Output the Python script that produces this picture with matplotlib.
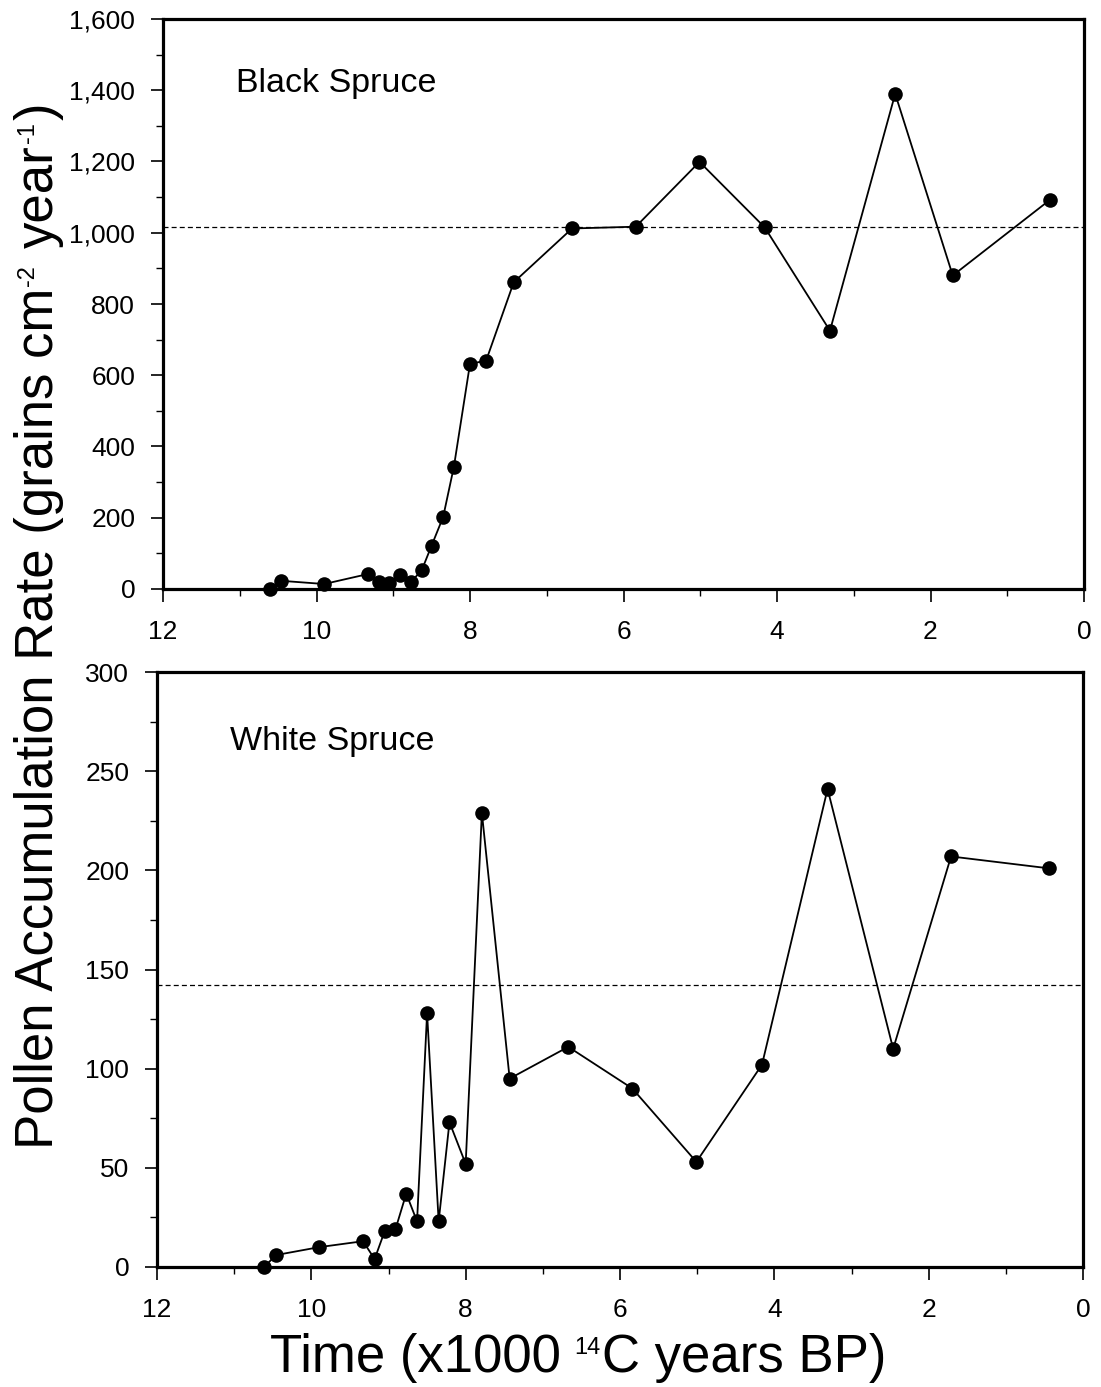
import matplotlib.pyplot as plt
from matplotlib.ticker import MultipleLocator, FuncFormatter
from matplotlib.transforms import IdentityTransform

plt.rcParams['font.family'] = ['Liberation Sans', 'DejaVu Sans']

# radiocarbon age of each sample (x1000 14C yr BP)
age_kyr = [10.61, 10.46, 9.90, 9.33, 9.18, 9.05, 8.91, 8.77, 8.63, 8.50, 8.35,
           8.21, 8.00, 7.79, 7.43, 6.67, 5.84, 5.01, 4.16, 3.31, 2.46, 1.71, 0.44]

# pollen accumulation rates (grains cm-2 yr-1)
black_spruce = [0, 23, 14, 42, 21, 18, 39, 20, 52, 122, 202, 343, 632, 641, 861,
                1012, 1017, 1199, 1015, 725, 1390, 880, 1093]
white_spruce = [0, 6, 10, 13, 4, 18, 19, 37, 23, 128, 23, 73, 52, 229, 95,
                111, 90, 53, 102, 241, 110, 207, 201]

# Holocene mean lines
black_mean = 1015
white_mean = 142

lw_frame = 2.3
fs_tick = 19
fs_label = 38
fs_sup = 17

fig = plt.figure(figsize=(11.01, 13.87), dpi=100)
ax_top = fig.add_axes([163 / 1101, 1 - 589 / 1387, 921 / 1101, 570 / 1387])
ax_bot = fig.add_axes([157 / 1101, 1 - 1267 / 1387, 926 / 1101, 595 / 1387])

panels = [
    (ax_top, black_spruce, black_mean, 1600, 200, 100, "Black Spruce", 0.872),
    (ax_bot, white_spruce, white_mean, 300, 50, 25, "White Spruce", 0.869),
]

for ax, vals, mean, ymax, major, minor, name, ytxt in panels:
    ax.axhline(mean, color='k', lw=0.9, ls=(0, (4, 2.5)), zorder=1)
    ax.plot(age_kyr, vals, color='k', lw=1.3, marker='o', ms=10.5,
            markeredgewidth=0, clip_on=False, zorder=3)

    ax.set_xlim(12, 0)
    ax.set_ylim(0, ymax)
    ax.xaxis.set_major_locator(MultipleLocator(2))
    ax.xaxis.set_minor_locator(MultipleLocator(1))
    ax.yaxis.set_major_locator(MultipleLocator(major))
    ax.yaxis.set_minor_locator(MultipleLocator(minor))
    ax.yaxis.set_major_formatter(FuncFormatter(lambda v, p: f"{v:,.0f}"))
    ax.xaxis.set_major_formatter(FuncFormatter(lambda v, p: f"{v:.0f}"))

    ax.tick_params(which='major', direction='out', length=9, width=1.2,
                   labelsize=fs_tick)
    ax.tick_params(which='minor', direction='out', length=5, width=1.0)
    ax.tick_params(axis='y', which='major', pad=11)
    ax.tick_params(axis='x', which='major', pad=13)

    for spine in ax.spines.values():
        spine.set_linewidth(lw_frame)

    ax.text(0.079, ytxt, name, transform=ax.transAxes, fontsize=24.5,
            ha='left', va='baseline')


def text_run(pieces, anchor, vertical):
    """Lay text pieces end to end along one baseline, centred on anchor (px)."""
    renderer = fig.canvas.get_renderer()
    placed = []
    pos = 0.0
    for s, size, rise, gap in pieces:
        t = fig.text(0, 0, s, fontsize=size, rotation=90 if vertical else 0,
                     rotation_mode='anchor', ha='left', va='baseline',
                     transform=IdentityTransform())
        bb = t.get_window_extent(renderer)
        placed.append((t, pos, rise))
        pos += (bb.height if vertical else bb.width) + gap
    x0, y0 = anchor
    for t, p, rise in placed:
        if vertical:
            t.set_position((x0 - rise, y0 - pos / 2 + p))
        else:
            t.set_position((x0 - pos / 2 + p, y0 + rise))


# y label: baseline 53 px from the left edge, centred 626 px from the top
text_run([("Pollen Accumulation Rate (grains cm", fs_label, 0, 2),
          ("-2", fs_sup, 19, 17),
          ("year", fs_label, 0, 2),
          ("-1", fs_sup, 19, 2),
          (")", fs_label, 0, 0)],
         anchor=(53, 1387 - 626), vertical=True)

# x label
text_run([("Time (x1000", fs_label, 0, 14),
          ("14", fs_sup, 18, 1),
          ("C years BP)", fs_label, 0, 0)],
         anchor=(578, 1387 - 1372), vertical=False)

fig.savefig("out.png", dpi=100)
